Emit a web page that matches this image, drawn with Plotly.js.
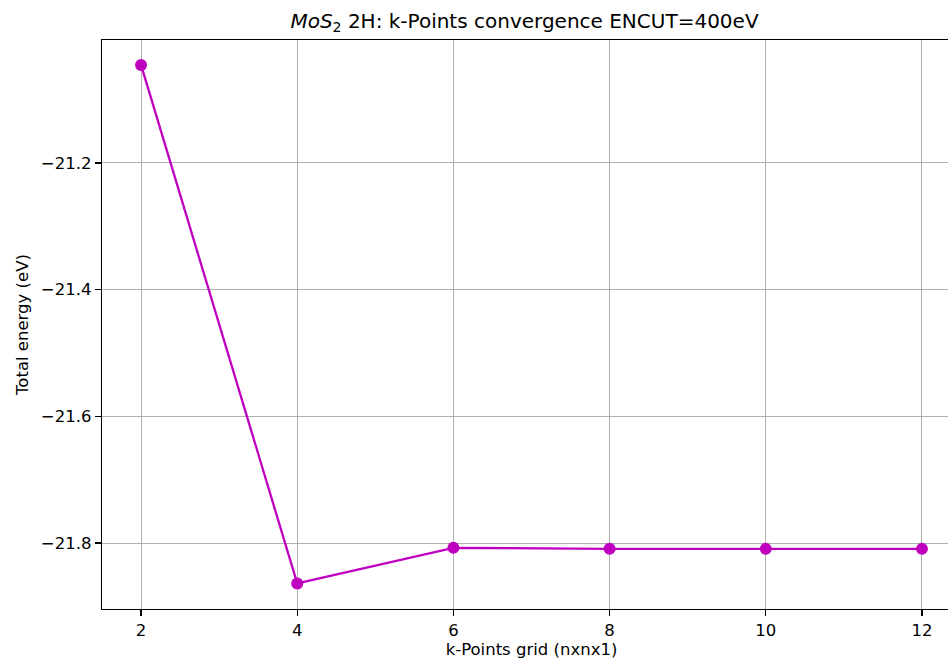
<!DOCTYPE html>
<html>
<head>
<meta charset="utf-8">
<script src="https://cdn.plot.ly/plotly-3.0.1.min.js"></script>
<style>
  html, body { margin: 0; padding: 0; background: #ffffff; overflow: hidden; }
  #chart { width: 980px; height: 660px; }
</style>
</head>
<body>
<div id="chart"></div>
<script>
// k-point grid sizes (n x n x 1) and the resulting total energies (eV)
const kGrid = [2, 4, 6, 8, 10, 12];
const totalEnergy = [-21.0453, -21.8636, -21.8074, -21.8090, -21.8091, -21.8091];
const yTicks = [-21.2, -21.4, -21.6, -21.8];
const xTicks = [2, 4, 6, 8, 10, 12];

const font = 'DejaVu Sans, sans-serif';

const trace = {
  x: kGrid,
  y: totalEnergy,
  type: 'scatter',
  mode: 'lines+markers',
  line: { color: '#bf00bf', width: 2.3 },
  marker: { color: '#bf00bf', size: 12 },
  hoverinfo: 'x+y'
};

const layout = {
  width: 980,
  height: 660,
  margin: { l: 102, r: 19, t: 40, b: 51 },
  paper_bgcolor: '#ffffff',
  plot_bgcolor: '#ffffff',
  showlegend: false,
  font: { family: font, color: '#000000', size: 16 },
  title: {
    text: '<i>MoS</i><sub>2</sub> 2H: k-Points convergence ENCUT=400eV',
    font: { family: font, size: 20, color: '#000000' },
    x: 524.5 / 980,
    xanchor: 'center',
    y: 1 - 21 / 660,
    yanchor: 'middle'
  },
  xaxis: {
    range: [1.5, 12.5],
    tickvals: xTicks,
    ticktext: xTicks.map(String),
    ticks: 'outside',
    ticklen: 6,
    tickwidth: 1.3,
    tickcolor: '#000000',
    showline: true,
    linecolor: '#000000',
    linewidth: 1.3,
    mirror: true,
    showgrid: true,
    gridcolor: '#b0b0b0',
    gridwidth: 1,
    zeroline: false,
    tickfont: { family: font, size: 16.5 },
    title: { text: 'k-Points grid (nxnx1)', font: { family: font, size: 16.5 }, standoff: 4 },
    automargin: false
  },
  yaxis: {
    range: [-21.904, -21.006],
    tickvals: yTicks,
    ticktext: yTicks.map(v => '\u2212' + Math.abs(v).toFixed(1)),
    ticks: 'outside',
    ticklen: 6,
    tickwidth: 1.3,
    tickcolor: '#000000',
    showline: true,
    linecolor: '#000000',
    linewidth: 1.3,
    mirror: true,
    showgrid: true,
    gridcolor: '#b0b0b0',
    gridwidth: 1,
    zeroline: false,
    tickfont: { family: font, size: 16.5 },
    title: { text: 'Total energy (eV)', font: { family: font, size: 16.5 }, standoff: 8 },
    automargin: false
  }
};

Plotly.newPlot('chart', [trace], layout, { displayModeBar: false, staticPlot: true });
</script>
</body>
</html>
